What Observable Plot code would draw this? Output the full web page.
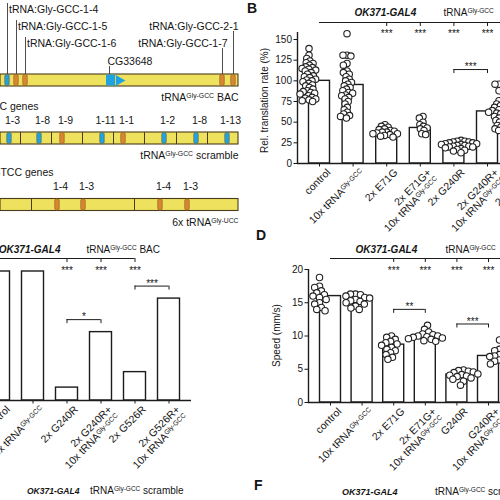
<!DOCTYPE html>
<html><head><meta charset="utf-8">
<script src="https://cdn.jsdelivr.net/npm/d3@7"></script>
<script src="https://cdn.jsdelivr.net/npm/@observablehq/plot@0.6"></script>
<style>
body{margin:0;background:#fff;}
#root{position:relative;width:500px;height:500px;overflow:hidden;background:#fff;font-family:"Liberation Sans",Arial,sans-serif;color:#151515;}
.panel{position:absolute;}
.txt{position:absolute;white-space:nowrap;line-height:1;}
.it{font-weight:bold;font-style:italic;}
.letter{position:absolute;font-weight:bold;font-size:14px;line-height:1;}
sup{font-size:65%;vertical-align:0.45em;line-height:0;}
</style></head><body><div id="root"></div>
<script>
// ================= DATA =================
// Panel A – schematic constructs (positions along each construct, arbitrary units)
const constructNames = ["tRNA^{Gly-GCC} BAC", "tRNA^{Gly-GCC} scramble", "6x tRNA^{Gly-UCC}"];
const constructLength = [238, 238, 238];
const geneSetTitles = ["", "tRNA:Gly-GCC genes", "tRNA:Gly-TCC genes"];
const bacNames = ["tRNA:Gly-GCC-1-4", "tRNA:Gly-GCC-1-5", "tRNA:Gly-GCC-1-6", "tRNA:Gly-GCC-1-7", "tRNA:Gly-GCC-2-1"];
const bacPos = [7, 16, 25, 222, 233];
const bacStrand = ["+", "-", "-", "-", "-"];
const bacGeneName = "CG33648";
const bacGeneStart = 106, bacGeneEnd = 124;
const scrambleNames = ["1-3", "1-8", "1-9", "1-11", "1-1", "1-2", "1-8", "1-13"];
const scramblePos = [9, 39, 62, 102, 123, 164, 196, 227];
const scrambleStrand = ["+", "+", "-", "+", "-", "+", "+", "+"];
const scrambleJunctions = [20, 51, 82, 113, 144, 176, 207];
const uccNames = ["1-4", "1-3", "1-4", "1-3"];
const uccPos = [57, 83, 160, 187];
const uccStrand = ["-", "-", "-", "-"];
const uccJunctions = [31, 134];

// Panel B – relative translation rate (%)
const bLabels = ["control", "10x tRNA^{Gly-GCC}", "2x E71G", "2x E71G+\n10x tRNA^{Gly-GCC}", "2x G240R", "2x G240R+\n10x tRNA^{Gly-GCC}", "2x G526R"];
const bMeans = [100, 95, 38, 43, 22, 63];
const bControl = [139,131,127,124,122,121,119,117,116,115,114,113,112,110,108,106,105,104,102,101,100,99,97,95,94,92,90,88,87,86,85,84,82,80,79,78,77,76,75];
const bTrna = [157,131,131,130,121,119,112,110,108,105,102,100,98,96,94,92,90,88,86,85,83,82,80,78,75,72,68,65,62,60,58,57,55];
const bE71G = [47,45,44,42,41,40,39,38,38,37,36,36,35,34,33,32];
const bE71GT = [57,55,50,47,45,43,42,40,36,35];
const bG240R = [28,27,27,26,26,25,25,24,24,23,23,22,22,21,21,20,20,19,18,17,16,15,13];
const bG240RT = [96,96,88,76,72,70,68,67,65,64,63,62,61,60,58,57,55,54,52,50,48,46,44,42,40];
const bSig = [2, 3, 4, 5];
const bBrackets = [[4, 5, "***"]];
const bYTicks = [0, 25, 50, 75, 100, 125, 150];

// Panel C – tRNA-Gly-GCC BAC
const cLabels = ["control", "10x tRNA^{Gly-GCC}", "2x G240R", "2x G240R+\n10x tRNA^{Gly-GCC}", "2x G526R", "2x G526R+\n10x tRNA^{Gly-GCC}"];
const cMeans = [100, 100, 10, 53, 22, 79];
const cSig = [2, 3, 4];
const cBrackets = [[2, 3, "*"], [4, 5, "***"]];

// Panel D – speed (mm/s)
const dLabels = ["control", "10x tRNA^{Gly-GCC}", "2x E71G", "2x E71G+\n10x tRNA^{Gly-GCC}", "G240R", "G240R+\n10x tRNA^{Gly-GCC}", "G526R"];
const dMeans = [16, 15.5, 8.7, 10, 4.2, 7];
const dControl = [18.8,17.5,17.3,16.8,16.5,16.2,16,15.8,15.5,15,14.8,14.3,14,13.8];
const dTrna = [16.3,16.3,16.2,16,15.8,15.7,15.5,15.3,15.2,15,14.8,14.5,14.2,14];
const dE71G = [10,9.8,9.5,9.2,9,8.8,8.6,8.3,8,7.8,7.5,7.2,6.8,6.5];
const dE71GT = [11.6,11,10.6,10.3,10.2,10,10,9.9,9.8,9.7,9.6,9.5,9.3,9.2];
const dG240R = [4.9,4.8,4.7,4.6,4.5,4.3,4.2,4.1,4,3.9,3.7,3.5,3.2,2.6];
const dG240RT = [9.4,8,7.8,7.6,7.4,7.2,7,6.9,6.8,6.6,6.4,6.2,6,5.8];
const dSig = [2, 3, 4, 5];
const dBrackets = [[2, 3, "**"], [4, 5, "***"]];
const dYTicks = [0, 5, 10, 15, 20];

// ================= RENDER =================
const root = document.getElementById("root");
const FONT = "'Liberation Sans', Arial, sans-serif";
const STYLE = `background:none;max-width:none;font-family:${FONT};font-size:10px;color:#151515;`;
const INK = "#1c1c1c";

function place(node, left, top) {
  const div = document.createElement("div");
  div.className = "panel";
  div.style.left = left + "px";
  div.style.top = top + "px";
  div.appendChild(node);
  root.appendChild(div);
}

// ---------- Panel A ----------
(function () {
  const LA = {trackY: [80, 138, 204.5], half: 6, labelRow: [9, 26, 43, 43, 26], geneRow: 61,
              titleEnd: [0, 38, 53]};
  const top = r => LA.trackY[r] - LA.half, bot = r => LA.trackY[r] + LA.half;
  const blue = "#1fa2e0", orange = "#d98633";
  const constructs = constructNames.map((name, row) => ({name, row, len: constructLength[row], title: geneSetTitles[row]}));
  const markers = [
    ...bacPos.map((pos, i) => ({row: 0, pos, strand: bacStrand[i]})),
    ...scramblePos.map((pos, i) => ({row: 1, pos, strand: scrambleStrand[i]})),
    ...uccPos.map((pos, i) => ({row: 2, pos, strand: uccStrand[i]}))
  ];
  const junctions = [...scrambleJunctions.map(pos => ({row: 1, pos})), ...uccJunctions.map(pos => ({row: 2, pos}))];
  const bacLabels = bacNames.map((name, i) => ({name, pos: bacPos[i], rowY: LA.labelRow[i], side: bacPos[i] > 120 ? "right" : "left"}));
  const shortLabels = [
    ...scrambleNames.map((name, i) => ({name, pos: scramblePos[i], row: 1})),
    ...uccNames.map((name, i) => ({name, pos: uccPos[i], row: 2}))
  ];
  const gene = [{name: bacGeneName, start: bacGeneStart, end: bacGeneEnd}];
  const svg = Plot.plot({
    width: 245, height: 232, margin: 0,
    x: {domain: [0, 245], range: [0, 245], axis: null},
    y: {domain: [0, 232], range: [0, 232], axis: null},
    style: STYLE,
    marks: [
      Plot.rect(constructs, {x1: 0, x2: "len", y1: d => top(d.row), y2: d => bot(d.row), fill: "#eee15e", stroke: "#4a3c1a", strokeWidth: 1.1}),
      Plot.ruleX(junctions, {x: "pos", y1: d => top(d.row), y2: d => bot(d.row), stroke: "#4a3c1a", strokeWidth: 1}),
      Plot.rect(markers, {x1: d => d.pos - 2.3, x2: d => d.pos + 2.3, y1: d => top(d.row) + 0.3, y2: d => bot(d.row) - 0.3,
        fill: d => d.strand === "+" ? blue : orange, stroke: "#7a4f18", strokeWidth: 0.5, rx: 2}),
      Plot.rect(gene, {x1: "start", x2: d => d.end - 9, y1: top(0) + 0.5, y2: bot(0) - 0.5, fill: blue}),
      Plot.dot(gene, {x: d => d.end - 5.5, y: LA.trackY[0], symbol: "triangle", rotate: 90, r: 4.1, fill: blue}),
      Plot.ruleX(bacLabels, {x: "pos", y1: d => d.side === "left" ? d.rowY - 6 : d.rowY + 5, y2: top(0), stroke: "#3a3a3a", strokeWidth: 0.9}),
      Plot.ruleX(gene, {x: d => d.start + 3, y1: LA.geneRow + 5, y2: top(0), stroke: "#3a3a3a", strokeWidth: 0.9}),
      Plot.text(bacLabels.filter(d => d.side === "left"), {x: "pos", y: "rowY", text: "name", textAnchor: "start", dx: 1.5, fontSize: 10.5}),
      Plot.text(bacLabels.filter(d => d.side === "right"), {x: "pos", y: "rowY", text: "name", textAnchor: "end", dx: 5, fontSize: 10.5}),
      Plot.text(gene, {x: "start", y: LA.geneRow, text: "name", textAnchor: "start", dx: 1, fontSize: 10.5}),
      Plot.text(shortLabels, {x: "pos", y: d => top(d.row) - 12, text: "name", dx: 3, fontSize: 10.5}),
      Plot.text(constructs, {x: "len", y: d => bot(d.row) + 11.5, text: "name", textAnchor: "end", fontSize: 10.5}),
      Plot.text(constructs.filter(d => d.title), {x: d => LA.titleEnd[d.row], y: d => top(d.row) - 26, text: "title", textAnchor: "end", fontSize: 10.5})
    ]
  });
  place(svg, 0, 0);
})();

// ---------- Bar chart panels ----------
function barPanel(o) {
  const idx = o.labels.map((_, i) => i);
  const xd0 = (o.axisX - o.c0) / o.step;
  const xd1 = (o.width - o.c0) / o.step;
  const k = (o.y0 - o.yRefPx) / o.yRefVal;
  const val = px => (o.y0 - px) / k;
  const hw = o.barW / 2 / o.step;
  const bars = o.means.map((v, i) => ({i, v}));
  const points = o.points || [];
  const pts = points.flatMap((arr, g) => arr.map(v => ({g, v})));
  const peak = g => Math.max(o.means[g], ...(points[g] || [0]));
  const brk = o.brackets.map(([a, b, t]) => ({a, b, t, y: val(o.y0 - Math.max(peak(a), peak(b)) * k - o.brkOff)}));
  const ends = brk.flatMap(d => [{x: d.a, y: d.y}, {x: d.b, y: d.y}]);
  const yScale = {domain: [0, o.yRefVal], range: [o.y0, o.yRefPx]};
  const common = {width: o.width, height: o.height, marginTop: o.mTop, marginBottom: o.height - o.y0, style: STYLE};

  const base = Plot.plot({
    ...common, marginLeft: o.axisX, marginRight: 0,
    x: {domain: [xd0, xd1], range: [o.axisX, o.width], axis: null},
    y: o.yTicks ? {...yScale, ticks: o.yTicks, tickSize: 3.5, tickPadding: 2, label: o.yLabel, labelAnchor: "center", labelOffset: o.labelOffset, labelArrow: false}
                : {...yScale, axis: null},
    marks: [
      Plot.rectY(bars, {x1: d => d.i - hw, x2: d => d.i + hw, y: "v", fill: "white", stroke: INK, strokeWidth: 1.4}),
      Plot.ruleY([0], {stroke: INK, strokeWidth: 1.4}),
      o.yTicks ? Plot.ruleX([xd0], {y1: 0, y2: val(o.yAxisTopPx), stroke: INK, strokeWidth: 1.4}) : null,
      Plot.ruleX(idx, {x: d => d, y1: 0, y2: val(o.y0 + 3.5), stroke: INK, strokeWidth: 1}),
      Plot.text(o.labels, {x: (d, i) => i, y: 0, text: d => d, rotate: -45, textAnchor: "end", lineAnchor: "top",
        dx: o.lblDx, dy: o.lblDy, fontSize: 10.5, lineHeight: 1.05}),
      Plot.ruleY([val(o.lineY)], {x1: o.lineX1 ?? xd0, x2: o.lineX2 ?? xd1, stroke: INK, strokeWidth: 1}),
      Plot.ruleX(o.sig, {x: d => d, y1: val(o.lineY), y2: val(o.lineY + 4), stroke: INK, strokeWidth: 1}),
      Plot.text(o.sig, {x: d => d, y: val(o.starY), text: () => "***", fontSize: 10, dy: 2.5}),
      Plot.ruleY(brk, {x1: "a", x2: "b", y: "y", stroke: INK, strokeWidth: 1}),
      Plot.ruleX(ends, {x: "x", y1: "y", y2: d => d.y - 4 / k, stroke: INK, strokeWidth: 1}),
      Plot.text(brk, {x: d => (d.a + d.b) / 2, y: d => d.y + 5 / k, text: "t", fontSize: 10, dy: 2.5}),
      Plot.text(["OK371-GAL4"], {x: o.t1x, y: val(o.titleY), fontWeight: "bold", fontStyle: "italic", fontSize: 10}),
      Plot.text(["tRNA^{Gly-GCC}" + (o.t2suffix || "")], {x: o.t2x, y: val(o.titleY), textAnchor: "start", fontSize: 10})
    ]
  });
  place(base, o.left, o.top);

  if (pts.length) {
    const p = 0.4, ng = points.length;
    const ml = o.c0 - o.step * (1 + p) / 2;
    const mr = o.width - ml - o.step * (ng + p);
    const over = Plot.plot({
      ...common, marginLeft: ml, marginRight: mr,
      fx: {domain: d3.range(ng), padding: p, axis: null},
      y: {...yScale, axis: null},
      marks: [
        Plot.dot(pts, Plot.dodgeX({anchor: "middle", padding: 0, r: o.layoutR},
          {fx: "g", y: "v", r: o.r, fill: "white", stroke: "#222", strokeWidth: 1.1}))
      ]
    });
    place(over, o.left, o.top);
  }
}

barPanel({
  labels: bLabels, means: bMeans, points: [bControl, bTrna, bE71G, bE71GT, bG240R, bG240RT],
  sig: bSig, brackets: bBrackets, yTicks: bYTicks, yLabel: "Rel. translation rate (%)",
  left: 250, top: 0, width: 330, height: 235, axisX: 47, c0: 69, step: 33.6, y0: 163, yRefVal: 150, yRefPx: 39,
  yAxisTopPx: 32, mTop: 37, labelOffset: 37, barW: 21, lineY: 22, lineX1: 0, starY: 31, titleY: 12,
  t1x: 1.96, t2x: 3.69, brkOff: 14.6, r: 3.2, layoutR: 2.0, lblDx: 6, lblDy: 4
});

barPanel({
  labels: cLabels, means: cMeans, points: null,
  sig: cSig, brackets: cBrackets, yTicks: null,
  left: 0, top: 235, width: 191, height: 265, axisX: 0, c0: -1.5, step: 34, y0: 165, yRefVal: 100, yRefPx: 36,
  mTop: 30, barW: 22, lineY: 23, lineX2: 4, starY: 33, titleY: 14,
  t1x: 0.9, t2x: 2.57, t2suffix: " BAC", brkOff: 12.5, lblDx: 6, lblDy: 4
});

barPanel({
  labels: dLabels, means: dMeans, points: [dControl, dTrna, dE71G, dE71GT, dG240R, dG240RT],
  sig: dSig, brackets: dBrackets, yTicks: dYTicks, yLabel: "Speed (mm/s)",
  left: 250, top: 235, width: 330, height: 265, axisX: 58, c0: 80, step: 31.6, y0: 167, yRefVal: 20, yRefPx: 34,
  yAxisTopPx: 34, mTop: 33, labelOffset: 36, barW: 21, lineY: 23, lineX1: 0, starY: 33, titleY: 14,
  t1x: 1.77, t2x: 3.64, brkOff: 16, r: 3.2, layoutR: 2.5, lblDx: 6, lblDy: 4
});

// ---------- panel letters and bottom row titles ----------
function addText(html, cls, left, top, size) {
  const d = document.createElement("div");
  d.className = cls;
  d.style.left = left + "px"; d.style.top = top + "px";
  if (size) d.style.fontSize = size + "px";
  d.innerHTML = html;
  root.appendChild(d);
}
addText("B", "letter", 247, 1);
addText("D", "letter", 256, 228);
addText("F", "letter", 254, 478);
addText("OK371-GAL4", "txt it", 27, 487, 8.5);
addText("tRNA<sup>Gly-GCC</sup> scramble", "txt", 90, 486, 10);
addText("OK371-GAL4", "txt it", 342, 488, 9);
addText("tRNA<sup>Gly-GCC</sup> scramble", "txt", 435, 487, 10);

// ---------- superscripts inside SVG text ----------
(function () {
  const NS = "http://www.w3.org/2000/svg";
  const walker = document.createTreeWalker(root, NodeFilter.SHOW_TEXT);
  const nodes = [];
  while (walker.nextNode()) if (walker.currentNode.nodeValue.includes("^{")) nodes.push(walker.currentNode);
  for (const node of nodes) {
    const parent = node.parentNode;
    const parts = node.nodeValue.split(/\^\{([^}]*)\}/);
    const frag = document.createDocumentFragment();
    parts.forEach((p, j) => {
      if (!p) return;
      if (j % 2 === 0) frag.appendChild(document.createTextNode(p));
      else {
        const t = document.createElementNS(NS, "tspan");
        t.setAttribute("baseline-shift", "super");
        t.setAttribute("font-size", "65%");
        t.textContent = p;
        frag.appendChild(t);
      }
    });
    parent.replaceChild(frag, node);
  }
})();
</script></body></html>
